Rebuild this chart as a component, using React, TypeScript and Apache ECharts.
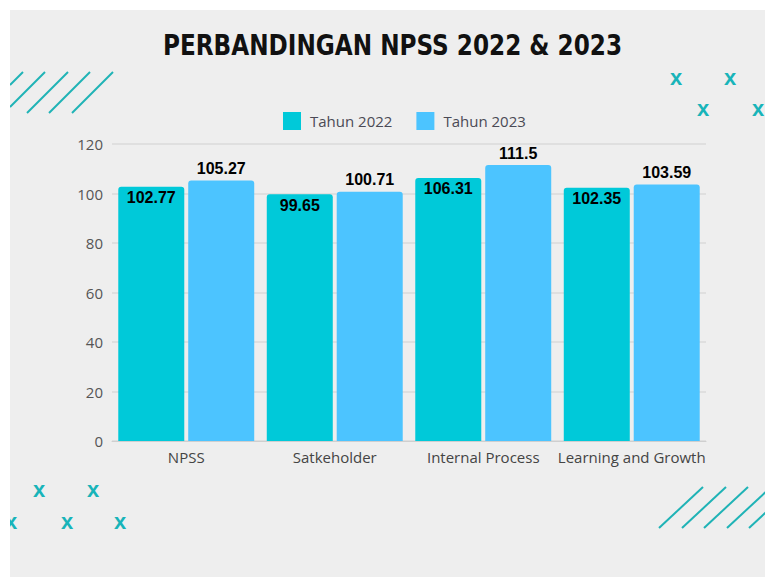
import React, { useEffect, useRef } from "react";
import * as echarts from "echarts";

const categories = ["NPSS", "Satkeholder", "Internal Process", "Learning and Growth"];
const seriesNames = ["Tahun 2022", "Tahun 2023"];
const values2022 = [102.77, 99.65, 106.31, 102.35];
const values2023 = [105.27, 100.71, 111.5, 103.59];
const yMin = 0;
const yMax = 120;
const yInterval = 20;
const titleText = "PERBANDINGAN NPSS 2022 & 2023";

const TEAL = "#1fb3b6";

export default function App() {
  const ref = useRef<HTMLDivElement>(null);
  useEffect(() => {
    if (!ref.current) return;
    const chart = echarts.init(ref.current, null, { renderer: "svg" });

    const topLeftLines = [
      [10, 85, 23, 72],
      [10, 107, 45, 72],
      [27, 113, 68, 72],
      [49, 113, 90, 72],
      [72, 113, 113, 72],
    ];
    const bottomRightLines = [
      [659, 528, 703, 487],
      [682, 528, 726, 487],
      [704, 528, 748, 487],
      [727, 528, 771, 487],
      [749, 528, 793, 487],
    ];
    const xMarks = [
      [676, 77], [730, 77], [703, 108], [758, 108],
      [39, 489], [93, 489], [11, 521], [67, 521], [120, 521],
    ];

    const lineEls = [...topLeftLines, ...bottomRightLines].map((l) => ({
      type: "line",
      silent: true,
      z: 1,
      shape: { x1: l[0], y1: l[1], x2: l[2], y2: l[3] },
      style: { stroke: TEAL, lineWidth: 2 },
    }));
    const xEls = xMarks.map((p) => ({
      type: "text",
      silent: true,
      z: 1,
      x: p[0],
      y: p[1],
      style: {
        text: "x",
        fill: "#18b4b9",
        fontSize: 22,
        fontWeight: "bold",
        fontFamily: "Liberation Sans",
        align: "center",
        verticalAlign: "middle",
      },
    }));

    chart.setOption({
      animation: false,
      backgroundColor: "#ffffff",
      legend: {
        data: seriesNames,
        left: 283,
        top: 112,
        padding: 0,
        itemWidth: 18,
        itemHeight: 18,
        itemGap: 24,
        icon: "rect",
        textStyle: { fontSize: 15, color: "#4a4a55", fontFamily: "Open Sans", padding: [0, 0, 0, 4] },
      },
      grid: { left: 112, right: 59, top: 144, bottom: 137, containLabel: false },
      xAxis: {
        type: "category",
        data: categories,
        axisTick: { show: false },
        axisLine: { show: true, lineStyle: { color: "#cfcfcf", width: 1 } },
        axisLabel: { color: "#444", fontSize: 15, fontFamily: "Open Sans", margin: 8, interval: 0 },
      },
      yAxis: {
        type: "value",
        min: yMin,
        max: yMax,
        interval: yInterval,
        axisLine: { show: false },
        axisTick: { show: false },
        axisLabel: { color: "#555", fontSize: 15, fontFamily: "Open Sans", margin: 9 },
        splitLine: { lineStyle: { color: "#dadada", width: 1.5 } },
      },
      series: [
        {
          name: seriesNames[0],
          type: "bar",
          data: values2022,
          barWidth: 66,
          barGap: "6%",
          itemStyle: { color: "#00c9d9", borderRadius: [3, 3, 0, 0] },
          label: {
            show: true,
            position: "insideTop",
            distance: 3,
            color: "#000",
            fontSize: 16,
            fontWeight: "bold",
            fontFamily: "Liberation Sans",
          },
        },
        {
          name: seriesNames[1],
          type: "bar",
          data: values2023,
          barWidth: 66,
          itemStyle: { color: "#4cc4ff", borderRadius: [3, 3, 0, 0] },
          label: {
            show: true,
            position: "top",
            distance: 4,
            color: "#000",
            fontSize: 16,
            fontWeight: "bold",
            fontFamily: "Liberation Sans",
          },
        },
      ],
      graphic: [
        {
          type: "rect",
          silent: true,
          z: -10,
          shape: { x: 10, y: 10, width: 755, height: 567 },
          style: { fill: "#eeeeee" },
        },
        ...lineEls,
        ...xEls,
        { type: "rect", silent: true, z: 100, shape: { x: 0, y: 0, width: 10, height: 578 }, style: { fill: "#fff" } },
        { type: "rect", silent: true, z: 100, shape: { x: 0, y: 0, width: 765, height: 10 }, style: { fill: "#fff" } },
        { type: "rect", silent: true, z: 100, shape: { x: 0, y: 577, width: 765, height: 1 }, style: { fill: "#fff" } },
        {
          type: "text",
          silent: true,
          z: 5,
          x: 392.5,
          y: 45,
          scaleX: 0.92,
          style: {
            text: titleText,
            fill: "#111",
            fontSize: 28,
            fontWeight: "bold",
            fontFamily: "DejaVu Sans Condensed",
            align: "center",
            verticalAlign: "middle",
          },
        },
      ],
    });
    return () => chart.dispose();
  }, []);
  return (
    <div
      ref={ref}
      style={{ position: "absolute", left: 0, top: 0, width: 765, height: 578 }}
    />
  );
}
